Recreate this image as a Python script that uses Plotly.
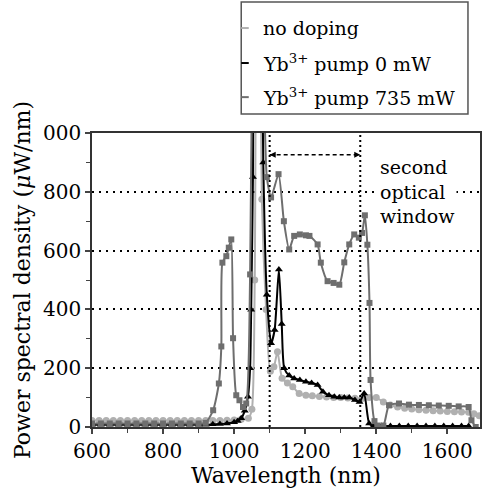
import plotly.graph_objects as go

# ---------------- data ----------------
nd_x = [600, 620, 640, 660, 680, 700, 720, 740, 760, 780, 800, 820, 840, 860, 880, 900, 920, 940, 960, 980,
        1000, 1020, 1040, 1050, 1058, 1065, 1074, 1078, 1090, 1102, 1112, 1122, 1135, 1150, 1165, 1183, 1202,
        1220, 1240, 1260, 1280, 1300, 1320, 1340, 1360, 1380, 1400, 1420, 1440, 1460, 1480, 1500, 1520, 1540,
        1560, 1580, 1600, 1620, 1640, 1660, 1675, 1690]
nd_y = [22, 22, 22, 22, 22, 22, 22, 22, 22, 22, 22, 22, 22, 22, 22, 22, 22, 22, 22, 23,
        24, 26, 30, 60, 500, 2500, 1300, 775, 400, 190, 205, 256, 166, 150, 137, 114, 108,
        106, 104, 102, 100, 100, 99, 98, 97, 100, 100, 85, 75, 68, 64, 61, 59, 57,
        55, 54, 53, 52, 51, 50, 45, 38]

b_x = [600, 625, 650, 675, 700, 725, 750, 775, 800, 825, 850, 875, 900, 920, 940, 960, 980, 1000, 1010,
       1020, 1030, 1039, 1045, 1048, 1053, 1060, 1072, 1082, 1092, 1104, 1114, 1126, 1134, 1141, 1155,
       1169, 1185, 1202, 1218, 1235, 1250, 1267, 1282, 1296, 1310, 1324, 1340, 1353, 1366, 1380, 1392,
       1415, 1440, 1465, 1490, 1515, 1540, 1565, 1590, 1615, 1640, 1660]
b_y = [8, 8, 8, 8, 8, 8, 8, 8, 8, 8, 8, 8, 8, 8, 9, 10, 12, 16, 20,
       30, 55, 103, 200, 399, 850, 2500, 2000, 900, 450, 285, 330, 536, 350, 200, 175,
       165, 160, 154, 150, 143, 120, 108, 103, 100, 100, 100, 92, 85, 114, 12, 3,
       3, 3, 3, 3, 3, 3, 3, 3, 3, 3, 3]

g_x = [600, 625, 650, 675, 700, 725, 750, 775, 800, 825, 850, 875, 900, 920, 941, 957, 964, 967, 978, 985,
       992, 997, 1006, 1015, 1025, 1034, 1045, 1052, 1065, 1080, 1092, 1104, 1125, 1140, 1155, 1169, 1185,
       1202, 1212, 1235, 1244, 1263, 1280, 1296, 1310, 1324, 1338, 1351, 1360, 1368, 1375, 1381, 1384,
       1395, 1403, 1420, 1436, 1464, 1492, 1520, 1548, 1576, 1604, 1632, 1660, 1668, 1680]
g_y = [12, 12, 12, 12, 12, 12, 12, 12, 12, 12, 12, 12, 12, 14, 57, 148, 274, 559, 581, 610,
       638, 302, 108, 91, 68, 80, 519, 1500, 3000, 1500, 850, 781, 860, 700, 604, 650, 655,
       652, 650, 621, 559, 496, 490, 484, 560, 621, 655, 644, 660, 720, 620, 422, 160,
       20, 5, 5, 74, 80, 76, 75, 74, 73, 72, 70, 68, 23, 0]

series_names = ["no doping", "Yb<sup>3+</sup> pump 0 mW", "Yb<sup>3+</sup> pump 735 mW"]

x_ticks = [600, 800, 1000, 1200, 1400, 1600]
y_ticks = [0, 200, 400, 600, 800, 1000]
y_ticktext = ["0", "200", "400", "600", "800", "000"]

window_left = 1100
window_right = 1355
window_arrow_y = 926

LIGHT = "#b0b0b0"
DARK = "#6e6e6e"
COLORS = [LIGHT, "black", DARK]
FONT = "DejaVu Serif"

fig = go.Figure()
fig.add_trace(go.Scatter(x=nd_x, y=nd_y, mode="lines+markers", name=series_names[0],
                         line=dict(color=LIGHT, width=2, shape="spline", smoothing=0.6),
                         marker=dict(symbol="circle", size=7, color=LIGHT)))
fig.add_trace(go.Scatter(x=b_x, y=b_y, mode="lines+markers", name=series_names[1],
                         line=dict(color="black", width=2, shape="spline", smoothing=0.6),
                         marker=dict(symbol="triangle-up", size=7, color="black")))
fig.add_trace(go.Scatter(x=g_x, y=g_y, mode="lines+markers", name=series_names[2],
                         line=dict(color=DARK, width=2, shape="spline", smoothing=0.6),
                         marker=dict(symbol="square", size=6, color=DARK)))

# window lines
for xv in (window_left, window_right):
    fig.add_shape(type="line", x0=xv, x1=xv, y0=0, y1=1000, xref="x", yref="y",
                  line=dict(color="black", width=2, dash="2px,3px"))
fig.add_shape(type="line", x0=window_left, x1=window_right, y0=window_arrow_y, y1=window_arrow_y,
              xref="x", yref="y", line=dict(color="black", width=1.5, dash="4px,3px"))
for tip, tail in ((window_left, window_left + 20), (window_right, window_right - 20)):
    fig.add_annotation(x=tip, y=window_arrow_y, ax=tail, ay=window_arrow_y, axref="x", ayref="y",
                       xref="x", yref="y", text="", showarrow=True, arrowhead=2, arrowsize=1,
                       arrowwidth=1.2, arrowcolor="black")

fig.add_annotation(x=1405, y=802, xref="x", yref="y", xanchor="left", yanchor="middle",
                   text="second<br>optical<br>window", showarrow=False, align="left",
                   bgcolor="white", font=dict(family=FONT, size=19, color="black"))

# custom legend box (paper coordinates)
fig.add_shape(type="rect", xref="paper", yref="paper", x0=0.3846, x1=0.969, y0=1.0646, y1=1.4456,
              line=dict(color="#555555", width=1.5), fillcolor="white", layer="above")
row_y = [1.357, 1.238, 1.122]
for name, col, ry in zip(series_names, COLORS, row_y):
    fig.add_shape(type="line", xref="paper", yref="paper", x0=0.3846, x1=0.404, y0=ry, y1=ry,
                  line=dict(color=col, width=2), layer="above")
    fig.add_annotation(x=0.4359, y=ry, xref="paper", yref="paper", xanchor="left", yanchor="middle",
                       text=name, showarrow=False, font=dict(family=FONT, size=19, color="black"))

fig.update_layout(
    width=482, height=490,
    margin=dict(l=92, r=0, t=133, b=63),
    paper_bgcolor="white", plot_bgcolor="white",
    font=dict(family=FONT, color="black"),
    showlegend=False,
)
fig.update_xaxes(range=[600, 1692], tickvals=x_ticks, ticks="outside", ticklen=5, tickwidth=1.5,
                 showline=True, linecolor="#333333", linewidth=1.5, mirror=True,
                 minor=dict(dtick=100, ticks="outside", ticklen=4, tickwidth=1.2, tick0=600),
                 tickfont=dict(family=FONT, size=20), showgrid=False, zeroline=False,
                 title=dict(text="Wavelength (nm)", font=dict(family=FONT, size=22), standoff=6))
fig.update_yaxes(range=[0, 1000], tickvals=y_ticks, ticktext=y_ticktext, ticks="outside", ticklen=5,
                 tickwidth=1.5, showline=True, linecolor="#333333", linewidth=1.5, mirror=True,
                 minor=dict(dtick=100, ticks="outside", ticklen=4, tickwidth=1.2, tick0=0),
                 tickfont=dict(family=FONT, size=20), showgrid=True, gridcolor="black", gridwidth=2,
                 griddash="2px,5px", zeroline=False,
                 title=dict(text="Power spectral density (<i>μ</i>W/nm)", font=dict(family=FONT, size=22),
                            standoff=6))

fig.write_html("out.html")
